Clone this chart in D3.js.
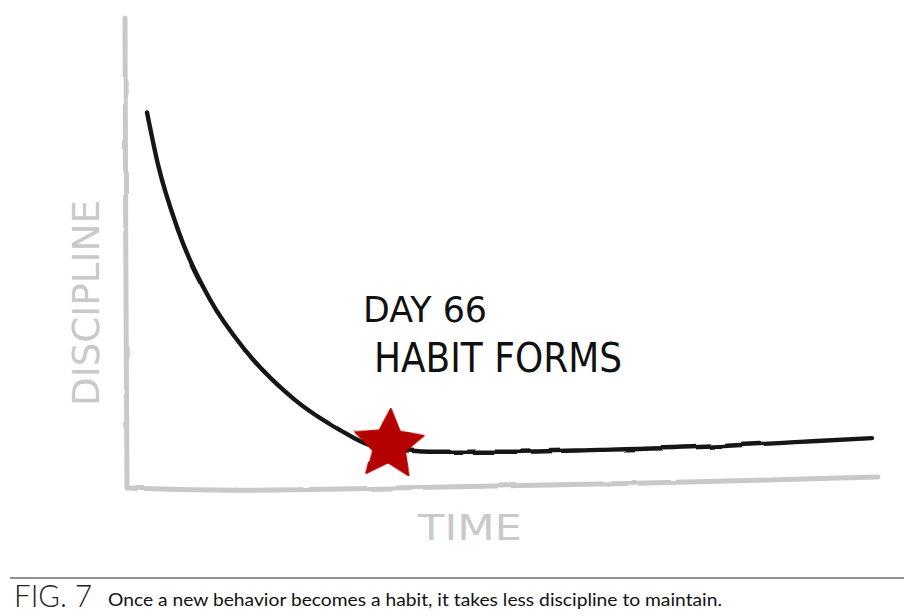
<!DOCTYPE html>
<html><head><meta charset="utf-8">
<script src="https://cdn.jsdelivr.net/npm/d3@7"></script>
<style>body{margin:0;background:#fff}svg{display:block}</style>
</head><body>
<script>
// Data: day vs. discipline required
const days =       [0,  3,   8.5, 17.3, 26.8, 40.5, 52.9, 61.1, 66,  77.5, 96.7, 124, 151.5, 179, 198.6];
const discipline = [80, 69,  55.1, 40.3, 29.7, 19.1, 12.7, 9.5,  8.9, 8.1,  8.1,  8.5, 9.1,   10.2, 11];
const habitDay = 66;
const annotation = ["DAY 66", "HABIT FORMS"];
const xLabel = "TIME", yLabel = "DISCIPLINE";
const figLabel = "FIG. 7";
const caption = "Once a new behavior becomes a habit, it takes less discipline to maintain.";

const W = 914, H = 616;
const svg = d3.select("body").append("svg").attr("width", W).attr("height", H);

const x = d3.scaleLinear().domain([0, 200]).range([147, 877]);
const y = d3.scaleLinear().domain([0, 100]).range([490, 18]);

const defs = svg.append("defs");
const f = defs.append("filter").attr("id","rough").attr("x","-5%").attr("y","-5%").attr("width","110%").attr("height","110%");
f.append("feTurbulence").attr("type","fractalNoise").attr("baseFrequency","0.03").attr("numOctaves",2).attr("seed",3).attr("result","n");
f.append("feDisplacementMap").attr("in","SourceGraphic").attr("in2","n").attr("scale",2.5);

const grey = "#c9c9c9";
// axes
const axis = svg.append("g").attr("filter","url(#rough)");
axis.append("path")
  .attr("d", d3.line().curve(d3.curveBasis)([[125,18],[125.5,200],[126.5,400],[127,488]]))
  .attr("fill","none").attr("stroke",grey).attr("stroke-width",5).attr("stroke-linecap","round");
axis.append("path")
  .attr("d", d3.line().curve(d3.curveBasis)([[127,488],[230,491],[350,489],[500,486],[700,482],[878,477]]))
  .attr("fill","none").attr("stroke",grey).attr("stroke-width",5).attr("stroke-linecap","round");

// axis labels
svg.append("text").attr("x",470).attr("y",540).attr("text-anchor","middle")
  .attr("font-family","DejaVu Sans").attr("font-size",36).attr("fill",grey)
  .attr("textLength",104).attr("lengthAdjust","spacingAndGlyphs").text(xLabel);
svg.append("text").attr("transform","translate(99,303) rotate(-90)").attr("text-anchor","middle")
  .attr("font-family","DejaVu Sans").attr("font-size",37).attr("fill",grey)
  .attr("textLength",206).attr("lengthAdjust","spacingAndGlyphs").text(yLabel);

// curve
svg.append("path")
  .datum(days.map((d,i)=>[d, discipline[i]]))
  .attr("d", d3.line().x(d=>x(d[0])).y(d=>y(d[1])).curve(d3.curveMonotoneX))
  .attr("fill","none").attr("stroke","#151515").attr("stroke-width",4.4)
  .attr("stroke-linecap","round").attr("filter","url(#rough)");

// star (custom fat hand-drawn star symbol)
const fatStar = {draw(ctx, size){
  const R = Math.sqrt(size), r = R*0.48;
  for(let i=0;i<10;i++){
    const a = -Math.PI/2 + i*Math.PI/5, rr = i%2 ? r : R;
    const px = rr*Math.cos(a), py = rr*Math.sin(a);
    i ? ctx.lineTo(px,py) : ctx.moveTo(px,py);
  }
  ctx.closePath();
}};
const hi = days.indexOf(habitDay);
svg.append("path")
  .attr("d", d3.symbol(fatStar, 36*36)())
  .attr("transform", `translate(${x(habitDay)+1},${y(discipline[hi])-3}) rotate(3)`)
  .attr("fill","#b40000").attr("stroke","#b40000").attr("stroke-width",2).attr("stroke-linejoin","round")
  .attr("filter","url(#rough)");

// annotation
svg.append("text").attr("x",363).attr("y",322)
  .attr("font-family","DejaVu Sans").attr("font-size",36).attr("fill","#111")
  .attr("textLength",124).attr("lengthAdjust","spacingAndGlyphs").text(annotation[0]);
svg.append("text").attr("x",374).attr("y",372)
  .attr("font-family","DejaVu Sans").attr("font-size",40).attr("fill","#111")
  .attr("textLength",248).attr("lengthAdjust","spacingAndGlyphs").text(annotation[1]);

// caption
svg.append("line").attr("x1",10).attr("x2",904).attr("y1",578).attr("y2",578)
  .attr("stroke","#222").attr("stroke-width",1.2);
svg.append("text").attr("x",14).attr("y",607)
  .attr("font-family","Lato").attr("font-weight",300).attr("font-size",31).attr("fill","#222")
  .attr("textLength",78).attr("lengthAdjust","spacingAndGlyphs").text(figLabel);
svg.append("text").attr("x",108).attr("y",606)
  .attr("font-family","Lato").attr("font-size",18).attr("fill","#111")
  .attr("textLength",614).attr("lengthAdjust","spacingAndGlyphs").text(caption);
</script>
</body></html>
